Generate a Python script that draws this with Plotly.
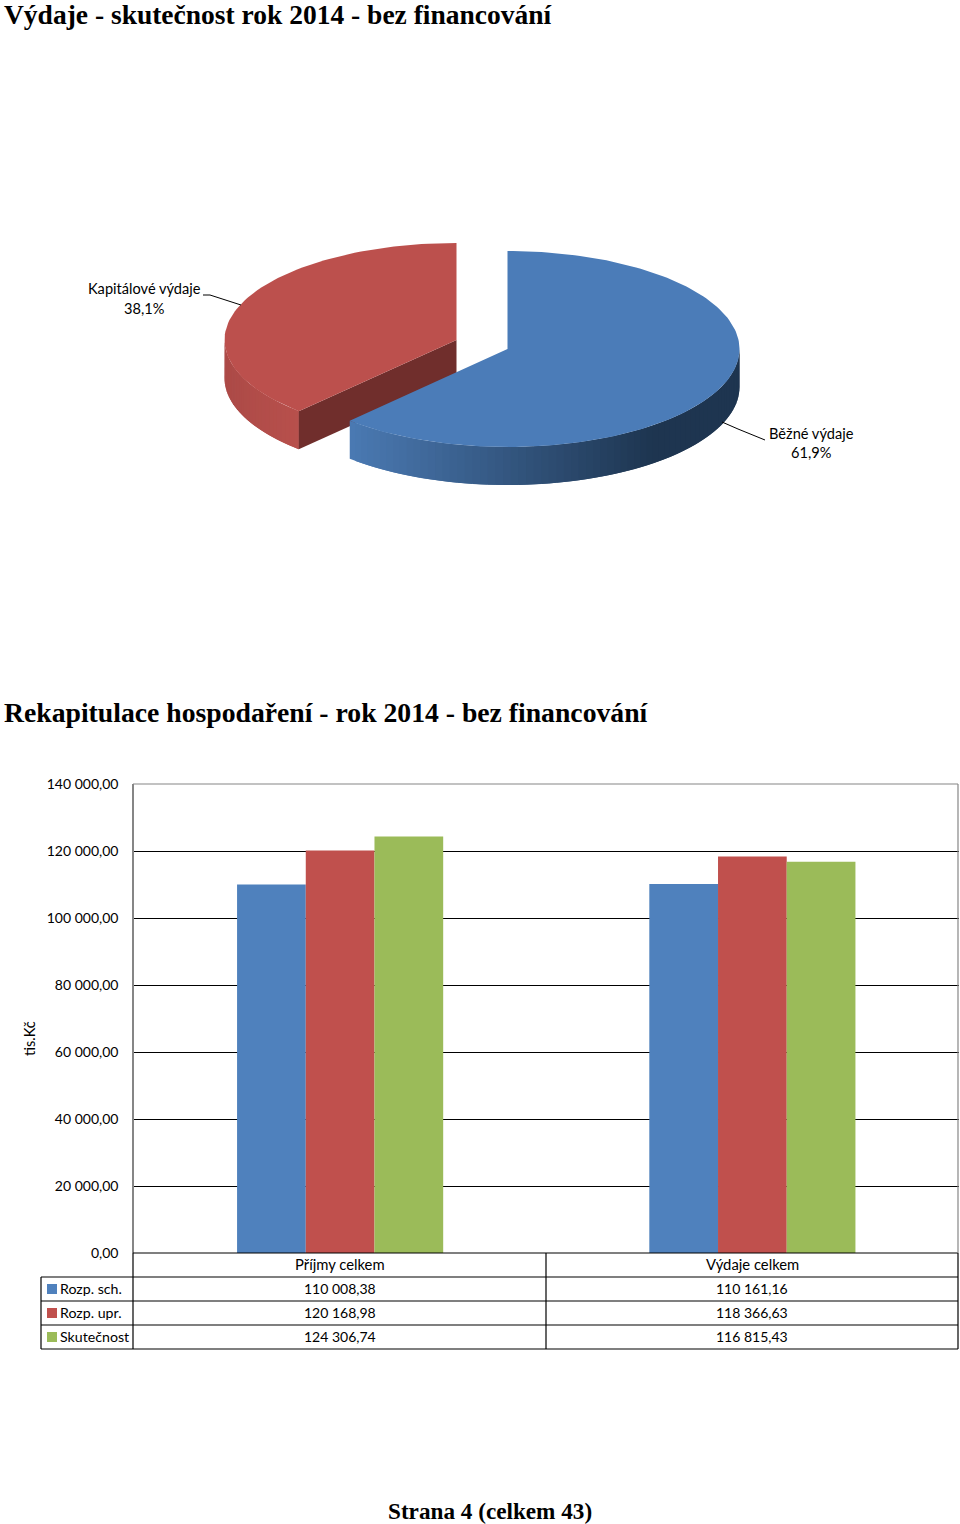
"""
Výdaje 2014: exploded 3D pie on top, budget recap bars with data table below
"""

import numpy as np
import plotly.graph_objects as go

# pie data
pie_labels = ['Běžné výdaje', 'Kapitálové výdaje']
pie_values = [61.9, 38.1]

# bar data
categories = ['Příjmy celkem', 'Výdaje celkem']
series_names = ['Rozp. sch.', 'Rozp. upr.', 'Skutečnost']
rozp_sch = [110008.38, 110161.16]
rozp_upr = [120168.98, 118366.63]
skutecnost = [124306.74, 116815.43]
y_ticks = [0, 20000, 40000, 60000, 80000, 100000, 120000, 140000]

COLORS = ['#4F81BD', '#C0504D', '#9BBB59']
LABEL_FONT = 'Lato'
TITLE_FONT = 'Liberation Serif, serif'
W, H = 960, 1524


def fmt(value):
    return f"{value:,.2f}".replace(',', ' ').replace('.', ',')


def hex_mix(c1, c2, t):
    t = min(max(t, 0), 1)
    a = [int(c1[i:i + 2], 16) for i in (1, 3, 5)]
    b = [int(c2[i:i + 2], 16) for i in (1, 3, 5)]
    return 'rgb({},{},{})'.format(*[round(a[i] + (b[i] - a[i]) * t) for i in range(3)])


def poly(fig, xs, ys, color, width=0):
    fig.add_trace(go.Scatter(
        x=xs, y=ys, xaxis='x2', yaxis='y2', mode='lines', fill='toself',
        fillcolor=color, line=dict(color=color, width=width),
        hoverinfo='skip', showlegend=False
    ))


def arc(cx, cy, a0, a1, rx=232, ry=98, n=80):
    # angles in degrees, clockwise from 12 o'clock
    t = np.radians(np.linspace(a0, a1, n))
    return cx + rx * np.sin(t), cy - ry * np.cos(t)


def add_slice_side(fig, cx, cy, a0, a1, c0, c1, x_span, depth=38, ry=98, steps=70):
    # gradient side wall, each strip runs under the next one so no seams show
    edges = np.linspace(a0, a1, steps + 1)
    for i in range(steps):
        end = edges[min(i + 2, steps)]
        xs, ys = arc(cx, cy, edges[i], end, ry=ry, n=6)
        px = np.concatenate([xs, xs[::-1]])
        py = np.concatenate([ys, ys[::-1] + depth])
        t = (xs[0] - x_span[0]) / (x_span[1] - x_span[0])
        poly(fig, px, py, hex_mix(c0, c1, t))


fig = go.Figure()

# bars with the real axes
for name, vals, color in zip(series_names, [rozp_sch, rozp_upr, skutecnost], COLORS):
    fig.add_trace(go.Bar(x=categories, y=vals, name=name, marker=dict(color=color, line=dict(width=0)),
                         showlegend=False, hoverinfo='skip'))

# pie, angles come from the values
split = 360 * pie_values[0] / sum(pie_values)
red_c = (456.5, 340)
blue_c = (507.5, 349)
RED_RY = 97

# red slice: side, cut face, top
add_slice_side(fig, red_c[0], red_c[1], 270, split, '#AC4A47', '#B8504C', (224, 299), ry=RED_RY, steps=30)
ex, ey = arc(red_c[0], red_c[1], split, split, ry=RED_RY, n=1)
poly(fig, [red_c[0], ex[0], ex[0], red_c[0]],
     [red_c[1], ey[0], ey[0] + 38, red_c[1] + 38], '#702E2C')
rx_, ry_ = arc(red_c[0], red_c[1], split, 360, ry=RED_RY)
poly(fig, np.r_[red_c[0], rx_], np.r_[red_c[1], ry_], '#BC504D')

# blue slice: side, top
add_slice_side(fig, blue_c[0], blue_c[1], split, 90, '#4A79B2', '#1E3550', (350, 650))
bx, by = arc(blue_c[0], blue_c[1], 0, split, n=160)
poly(fig, np.r_[blue_c[0], bx], np.r_[blue_c[1], by], '#4B7CB8')

shapes = []
annotations = []


def page_line(x0, y0, x1, y1, color='#000000', width=1.2):
    shapes.append(dict(type='line', xref='x2', yref='y2', x0=x0, y0=y0, x1=x1, y1=y1,
                       line=dict(color=color, width=width)))


def page_text(x, y, text, anchor='center', size=14.6, family=LABEL_FONT, **kw):
    annotations.append(dict(xref='x2', yref='y2', x=x, y=y, text=text, showarrow=False,
                            xanchor=anchor, yanchor='middle',
                            font=dict(family=family, size=size, color='#000000'), **kw))


# pie labels and leader lines
page_line(203, 295, 210, 295, width=1)
page_line(210, 295, 241, 305, width=1)
page_line(722, 422, 738, 429, width=1)
page_line(738, 429, 765, 440, width=1)
page_text(144, 288.5, pie_labels[1])
page_text(144, 308.5, f"{pie_values[1]:.1f}%".replace('.', ','))
page_text(811, 433.5, pie_labels[0])
page_text(811, 452.5, f"{pie_values[0]:.1f}%".replace('.', ','))

# titles
page_text(2, 14.5, '<b>Výdaje - skutečnost rok 2014 - bez financování</b>', 'left', 27.5, TITLE_FONT)
page_text(2, 712.5, '<b>Rekapitulace hospodaření - rok 2014 - bez financování</b>', 'left', 27.7, TITLE_FONT)
page_text(490, 1511, '<b>Strana 4 (celkem 43)</b>', 'center', 23.2, TITLE_FONT)

page_text(29, 1039, 'tis.Kč', textangle=-90)

# data table under the bars
col_x = [41, 133, 546, 958]
row_y = [1253, 1277, 1301, 1325, 1349]
page_line(col_x[1], row_y[0], col_x[3], row_y[0])
for y in row_y[1:]:
    page_line(col_x[0], y, col_x[3], y)
page_line(col_x[0], row_y[1], col_x[0], row_y[4])
page_line(col_x[1], row_y[0], col_x[1], row_y[4])
page_line(col_x[2], row_y[0], col_x[2], row_y[4])
page_line(col_x[3], row_y[0], col_x[3], row_y[4])

for j, cat in enumerate(categories):
    cx = (col_x[j + 1] + col_x[j + 2]) / 2
    page_text(cx, (row_y[0] + row_y[1]) / 2 - 1, cat, size=14.8)
    for i, vals in enumerate([rozp_sch, rozp_upr, skutecnost]):
        page_text(cx, (row_y[i + 1] + row_y[i + 2]) / 2 - 1, fmt(vals[j]), size=14)

for i, name in enumerate(series_names):
    mid = (row_y[i + 1] + row_y[i + 2]) / 2
    shapes.append(dict(type='rect', xref='x2', yref='y2', x0=47, x1=57, y0=mid - 5, y1=mid + 5,
                       fillcolor=COLORS[i], line=dict(width=0)))
    page_text(58, mid - 1, name, 'left', size=14.2)

# frame of the plot area
page_line(133, 784, 958, 784, '#868686')
page_line(958, 784, 958, 1253, '#868686')

fig.update_layout(
    template='none',
    width=W, height=H,
    autosize=False,
    margin=dict(l=0, r=0, t=0, b=0, pad=0),
    paper_bgcolor='white',
    plot_bgcolor='rgba(0,0,0,0)',
    barmode='group',
    bargap=0.5,
    bargroupgap=0,
    separators=', ',
    showlegend=False,
    shapes=shapes,
    annotations=annotations,
    xaxis=dict(domain=[134 / W, 958.5 / W], anchor='y', showticklabels=False, ticks='',
               showgrid=False, zeroline=False, showline=False, automargin=False),
    yaxis=dict(domain=[1 - 1253 / H, 1 - 784 / H], anchor='x', range=[0, 140000], tickvals=y_ticks,
               tickformat=',.2f', ticks='outside', ticklen=11, tickcolor='rgba(0,0,0,0)',
               tickfont=dict(family=LABEL_FONT, size=14, color='#000000'),
               showgrid=True, gridcolor='#000000', gridwidth=1.2, zeroline=False,
               showline=True, linecolor='#868686', linewidth=1.5, automargin=False),
    xaxis2=dict(domain=[0, 1], range=[0, W], anchor='y2', visible=False, fixedrange=True, automargin=False),
    yaxis2=dict(domain=[0, 1], range=[H, 0], anchor='x2', visible=False, fixedrange=True, automargin=False),
)

# the page's default body margin would push the figure off the window
fig.write_html("out.html", config=dict(displayModeBar=False),
               post_script="document.body.style.margin='0';")
